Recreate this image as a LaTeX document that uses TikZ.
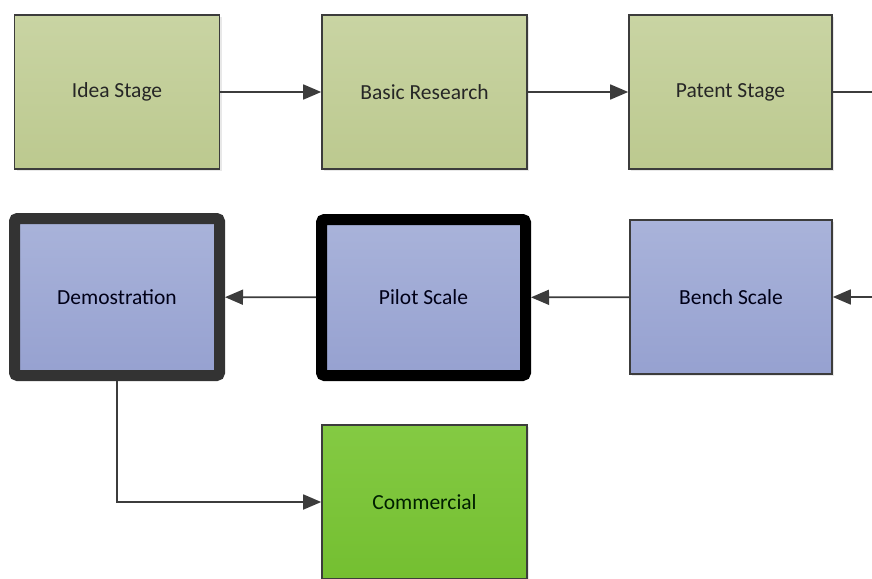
\documentclass[tikz,border=0pt]{standalone}
\usepackage{fontspec}
\setmainfont{Carlito}
\usetikzlibrary{arrows.meta,shadows}
\definecolor{edge}{HTML}{3C3C3C}
\definecolor{greentop}{HTML}{C9D4A3}
\definecolor{greenbot}{HTML}{BCC98F}
\definecolor{bluetop}{HTML}{A9B3DA}
\definecolor{bluebot}{HTML}{96A1D0}
\definecolor{limetop}{HTML}{84CA43}
\definecolor{limebot}{HTML}{74BF31}
\tikzset{
  stage/.style={rectangle, draw=edge, line width=1.6pt, minimum width=205pt,
    minimum height=154pt, inner sep=0pt, font=\fontsize{21.5}{26}\selectfont,
    drop shadow={opacity=0.18, shadow xshift=2pt, shadow yshift=-2pt}},
  early/.style={stage, top color=greentop, bottom color=greenbot, text=black!85},
  scaleup/.style={stage, top color=bluetop, bottom color=bluebot, text=black!85!blue!60!black},
  heavy/.style={line width=11pt, rounded corners=3pt},
  market/.style={stage, top color=limetop, bottom color=limebot, text=black!88!green},
  link/.style={draw=edge, line width=1.7pt, -{Triangle[length=18pt,width=15pt]}},
  plain/.style={draw=edge, line width=1.7pt}
}
\begin{document}
\begin{tikzpicture}[x=1pt,y=-1pt]
\useasboundingbox (0,0) rectangle (872,578);
\clip (0,0) rectangle (872,578);
% top row
\node[early] (idea) at (117,92) {Idea Stage};
\node[early] (research) at (424.5,92) {Basic Research};
\node[early, minimum width=203pt] (patent) at (730.5,92) {Patent Stage};
% middle row
\node[scaleup, minimum width=202pt] (bench) at (731,297) {Bench Scale};
\node[scaleup, heavy, draw=black, minimum width=204pt, minimum height=156pt] (pilot) at (423.5,297.5) {Pilot Scale};
\node[scaleup, heavy, draw=black!80, minimum width=205pt, minimum height=157pt] (demo) at (117,297) {Demostration};
% bottom
\node[market] (commercial) at (424.5,502) {Commercial};
% free ends at the right margin
\coordinate (outR) at (872,92);
\coordinate (inR) at (872,297);
% connectors
\draw[link] (idea) -- (research);
\draw[link] (research) -- (patent);
\draw[plain] (patent) -- (outR);
\draw[link] (inR) -- (bench);
\draw[link] (bench) -- (pilot);
\draw[link] (pilot) -- (demo);
\draw[link] (demo.south) |- (commercial.west);
\end{tikzpicture}
\end{document}
